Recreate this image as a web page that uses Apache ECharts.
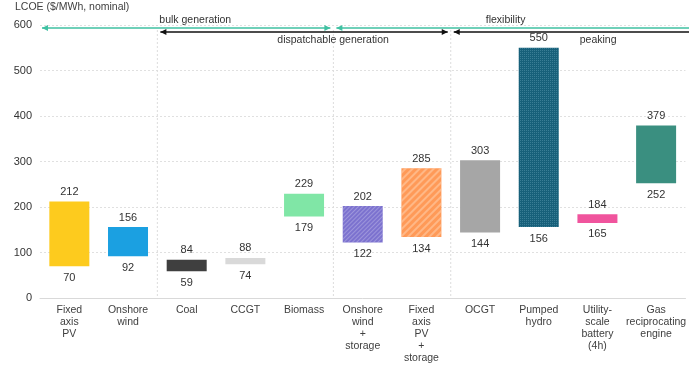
<!DOCTYPE html>
<html>
<head>
<meta charset="utf-8">
<script src="https://cdn.jsdelivr.net/npm/echarts@6/dist/echarts.min.js"></script>
<style>
  html, body { margin: 0; padding: 0; background: #fff; }
  #chart { width: 689px; height: 366px; }
</style>
</head>
<body>
<div id="chart"></div>
<script>
const categories = ['Fixed\naxis\nPV', 'Onshore\nwind', 'Coal', 'CCGT', 'Biomass',
  'Onshore\nwind\n+\nstorage', 'Fixed\naxis\nPV\n+\nstorage', 'OCGT', 'Pumped\nhydro',
  'Utility-\nscale\nbattery\n(4h)', 'Gas\nreciprocating\nengine'];
const lowValues = [70, 92, 59, 74, 179, 122, 134, 144, 156, 165, 252];
const highValues = [212, 156, 84, 88, 229, 202, 285, 303, 550, 184, 379];
const barColors = ['#fdcb1e', '#1ba0e1', '#3f3f3f', '#d9d9d9', '#80e6a6', '#7c72cf',
  '#ff9a58', '#a6a6a6', '#17607a', '#f0549d', '#3a8f80'];
// groups above the bars: span in category boundaries, label anchor boundary + offset
const groups = [
  { name: 'bulk generation', from: 0, to: 5, row: 0, at: 2, dx: 2 },
  { name: 'flexibility', from: 5, to: 11, row: 0, at: 7, dx: 35 },
  { name: 'dispatchable generation', from: 2, to: 7, row: 1, at: 2, dx: 120 },
  { name: 'peaking', from: 7, to: 11, row: 1, at: 7, dx: 129 }
];
const dividers = [2, 5, 7];

const FONT = 'Liberation Sans, Arial, sans-serif';
const FS = 10.5;
const TEAL = '#3fc1a2';

// hatch patterns
const decals = {
  5: { symbol: 'rect', symbolSize: 1, dashArrayX: [1, 0], dashArrayY: [1, 2], rotation: -Math.PI / 4, color: 'rgba(255,255,255,0.25)' },
  6: { symbol: 'rect', symbolSize: 1, dashArrayX: [1, 0], dashArrayY: [2, 3], rotation: -Math.PI / 4, color: 'rgba(255,220,190,0.45)' },
  8: { symbol: 'rect', symbolSize: 1, dashArrayX: [1, 1], dashArrayY: [1, 1], color: 'rgba(110,170,190,0.4)' }
};

const chart = echarts.init(document.getElementById('chart'));

const option = {
  animation: false,
  textStyle: { fontFamily: FONT },
  grid: { left: 40, right: 0, top: 25, bottom: 68 },
  xAxis: {
    type: 'category',
    data: categories,
    axisLine: { lineStyle: { color: '#d9d9d9' } },
    axisTick: { lineStyle: { color: '#d9d9d9' }, length: 4 },
    axisLabel: { interval: 0, color: '#404040', fontSize: FS, lineHeight: 12, margin: 6, fontFamily: FONT }
  },
  yAxis: {
    type: 'value',
    min: 0,
    max: 600,
    interval: 100,
    axisLine: { show: false },
    axisTick: { show: false },
    axisLabel: { color: '#333', fontSize: 11, margin: 8, fontFamily: FONT },
    splitLine: { lineStyle: { color: '#e0e0e0', type: [2, 2] } }
  },
  series: [
    {
      type: 'bar',
      stack: 'range',
      barWidth: 40,
      itemStyle: { color: 'transparent' },
      label: {
        show: true, position: 'insideTop', distance: 6,
        color: '#333', fontSize: 11, fontFamily: FONT
      },
      data: lowValues,
      silent: true
    },
    {
      type: 'bar',
      stack: 'range',
      barWidth: 40,
      label: {
        show: true, position: 'top', distance: 4,
        color: '#333', fontSize: 11, fontFamily: FONT,
        formatter: p => highValues[p.dataIndex]
      },
      data: highValues.map((h, i) => ({
        value: h - lowValues[i],
        itemStyle: { color: barColors[i], decal: decals[i] || null }
      }))
    }
  ]
};
chart.setOption(option);

// annotations above the plot
const x0 = chart.convertToPixel({ xAxisIndex: 0 }, 0);
const catW = chart.convertToPixel({ xAxisIndex: 0 }, 1) - x0;
const bound = k => x0 - catW / 2 + k * catW;
const yAxisZero = chart.convertToPixel({ yAxisIndex: 0 }, 0);

function arrowHead(x, y, dir, color) {
  return {
    type: 'polygon',
    shape: { points: [[x, y], [x - dir * 6, y - 3], [x - dir * 6, y + 3]] },
    style: { fill: color },
    z: 10
  };
}

const graphics = [
  { type: 'text', left: 15, top: 2, style: { text: 'LCOE ($/MWh, nominal)', fill: '#404040', font: FS + 'px ' + FONT } }
];

dividers.forEach(k => {
  graphics.push({
    type: 'line',
    shape: { x1: bound(k), y1: 30, x2: bound(k), y2: yAxisZero },
    style: { stroke: '#dcdcdc', lineWidth: 1, lineDash: [2, 2] },
    z: 1
  });
});

const rowY = [28, 32];
groups.forEach(g => {
  const color = g.row === 0 ? TEAL : '#111';
  const y = rowY[g.row];
  const xa = g.from === 0 ? bound(0) + 2 : bound(g.from) + 3;
  const xb = g.to === 11 ? bound(11) + 10 : bound(g.to) - 3;
  graphics.push({
    type: 'line',
    shape: { x1: xa, y1: y, x2: xb, y2: y },
    style: { stroke: color, lineWidth: 1.5 },
    z: 9
  });
  graphics.push(arrowHead(xa, y, -1, color));
  if (g.to !== 11) graphics.push(arrowHead(xb, y, 1, color));
  graphics.push({
    type: 'text',
    x: bound(g.at) + g.dx,
    y: g.row === 0 ? y - 8 : y + 8,
    style: { text: g.name, fill: '#333', font: FS + 'px ' + FONT, textVerticalAlign: 'middle' },
    z: 10
  });
});

chart.setOption({ graphic: graphics });
</script>
</body>
</html>
